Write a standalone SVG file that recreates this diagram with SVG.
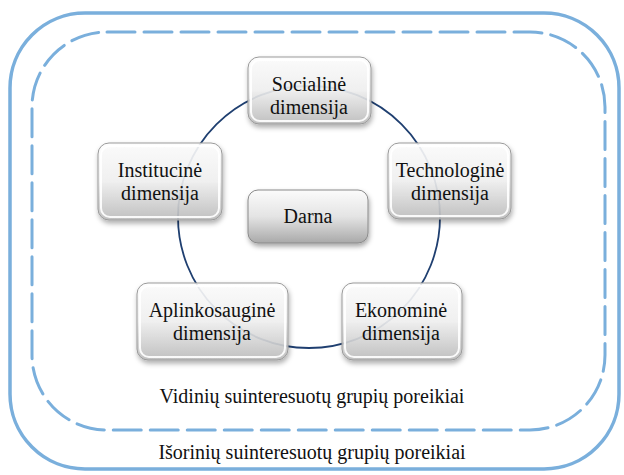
<svg xmlns="http://www.w3.org/2000/svg" width="624" height="475" viewBox="0 0 624 475">
<defs>
<linearGradient id="g" x1="0" y1="0" x2="0" y2="1">
<stop offset="0" stop-color="#ffffff"/>
<stop offset="0.5" stop-color="#f2f2f2"/>
<stop offset="1" stop-color="#bdbdbd"/>
</linearGradient>
<linearGradient id="g2" x1="0" y1="0" x2="0" y2="1">
<stop offset="0" stop-color="#fbfbfb"/>
<stop offset="0.5" stop-color="#e4e4e4"/>
<stop offset="1" stop-color="#a9a9a9"/>
</linearGradient>
<filter id="sh" x="-20%" y="-20%" width="140%" height="150%">
<feDropShadow dx="1" dy="3" stdDeviation="2.5" flood-color="#000" flood-opacity="0.35"/>
</filter>
<style>
.frame{fill:none;stroke:#7aafdc;stroke-width:3.5}
.dash{fill:none;stroke:#7aafdc;stroke-width:3;stroke-dasharray:28 9;stroke-linecap:round}
.box{fill:url(#g);fill-opacity:0.88;stroke:#9a9a9a;stroke-width:1;filter:url(#sh)}
.box2{fill:url(#g2);stroke:#8a8a8a;stroke-width:1;filter:url(#sh)}
.hl{fill:none;stroke:#ffffff;stroke-width:2;opacity:0.9}
.t{font-family:"Liberation Serif","Times New Roman",serif;font-size:20px;fill:#111;text-anchor:middle}
</style>
</defs>
<rect class="frame" x="10" y="13" width="609" height="456" rx="75"/>
<rect class="dash" x="32" y="32" width="573" height="398" rx="75"/>
<g id="connectors">
<circle cx="309" cy="217" r="131" fill="none" stroke="#1f3f70" stroke-width="1.8"/>
</g>
<g id="socialine">
<rect class="box" x="248" y="57" width="123" height="67" rx="11"/>
<rect class="hl" x="251" y="60" width="117" height="61" rx="9"/>
<text class="t" x="309" y="91">Socialinė</text>
<text class="t" x="309" y="114">dimensija</text>
</g>
<g id="technologine">
<rect class="box" x="388" y="143" width="123" height="76" rx="11"/>
<rect class="hl" x="391" y="146" width="117" height="70" rx="9"/>
<text class="t" x="450" y="177">Technologinė</text>
<text class="t" x="450" y="200">dimensija</text>
</g>
<g id="institucine">
<rect class="box" x="98" y="143" width="124" height="77" rx="11"/>
<rect class="hl" x="101" y="146" width="118" height="71" rx="9"/>
<text class="t" x="160" y="177">Institucinė</text>
<text class="t" x="160" y="200">dimensija</text>
</g>
<g id="darna">
<rect class="box2" x="248" y="190" width="120" height="53" rx="10"/>
<text class="t" x="308" y="223">Darna</text>
</g>
<g id="aplinkosaugine">
<rect class="box" x="137" y="283" width="151" height="77" rx="11"/>
<rect class="hl" x="140" y="286" width="145" height="71" rx="9"/>
<text class="t" x="212" y="317">Aplinkosauginė</text>
<text class="t" x="212" y="340">dimensija</text>
</g>
<g id="ekonomine">
<rect class="box" x="342" y="283" width="120" height="77" rx="11"/>
<rect class="hl" x="345" y="286" width="114" height="71" rx="9"/>
<text class="t" x="401" y="317">Ekonominė</text>
<text class="t" x="401" y="340">dimensija</text>
</g>
<text class="t" x="312" y="403">Vidinių suinteresuotų grupių poreikiai</text>
<text class="t" x="312" y="459">Išorinių suinteresuotų grupių poreikiai</text>
</svg>
